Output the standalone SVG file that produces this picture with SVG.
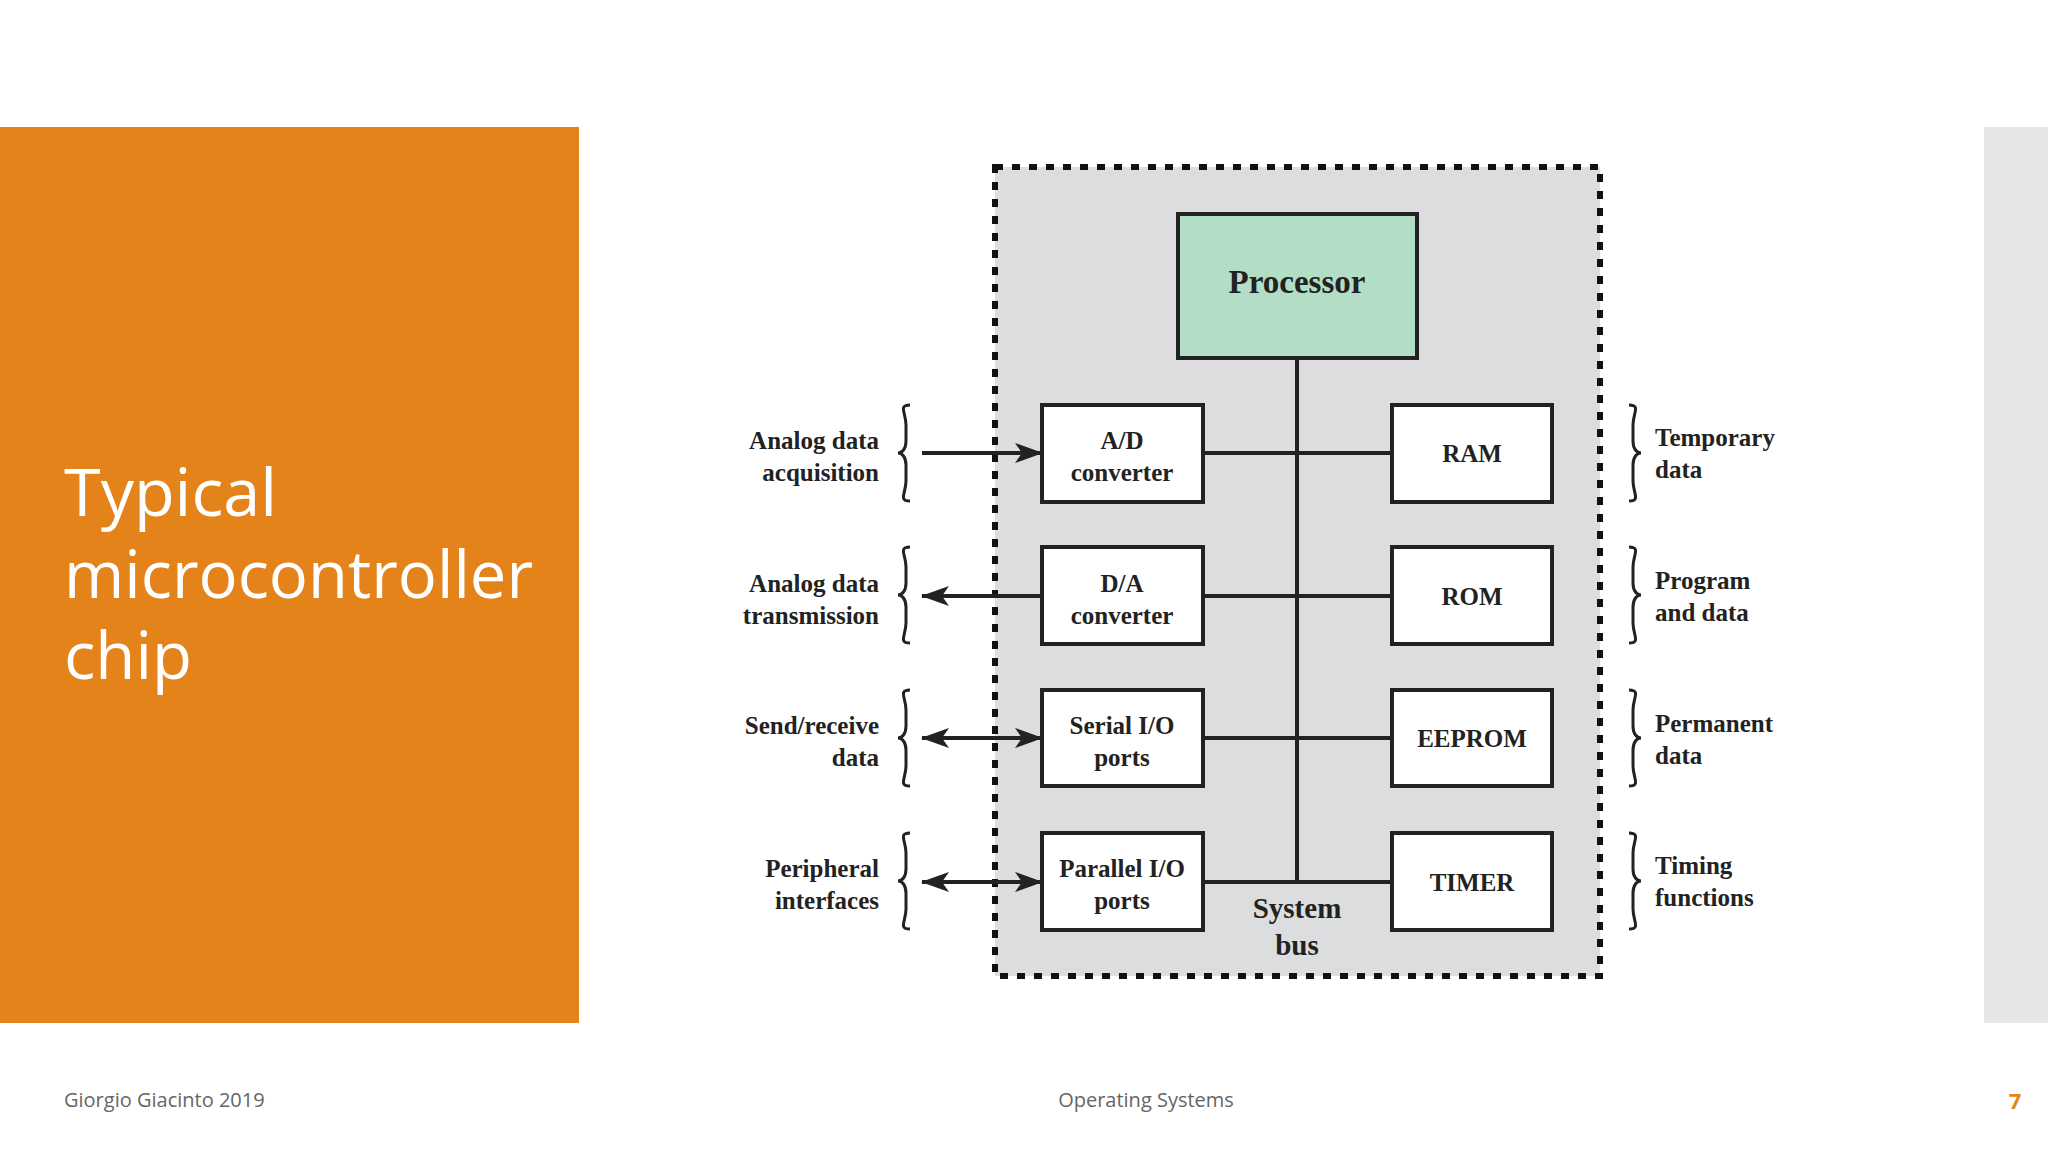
<svg xmlns="http://www.w3.org/2000/svg" width="2048" height="1152" viewBox="0 0 2048 1152">
<defs>
<style>
.box{fill:#fff;stroke:#222;stroke-width:4}
.t{font-family:"Liberation Serif",serif;font-weight:bold;font-size:25px;fill:#222}
.c{text-anchor:middle}
.r{text-anchor:end}
.ln{stroke:#222;stroke-width:4;fill:none}
.br{stroke:#222;stroke-width:3;fill:none}
.ft{font-family:"Open Sans",sans-serif;font-size:20px;fill:#666}
</style>
<marker id="ah" viewBox="0 0 28 20" refX="27" refY="10" markerWidth="28" markerHeight="20" markerUnits="userSpaceOnUse" orient="auto-start-reverse">
<path d="M0,0 L28,10 L0,20 L7,10 Z" fill="#222"/>
</marker>
<path id="lb" d="M12,0 C0,0 8,8 8,20 L8,36 C8,44 4,48 0,48 C4,48 8,52 8,60 L8,76 C8,88 0,96 12,96"/>
</defs>
<rect width="2048" height="1152" fill="#fff"/>
<rect x="0" y="127" width="579" height="896" fill="#E3831A"/>
<rect x="1984" y="127" width="64" height="896" fill="#E6E6E6"/>
<g font-family="Open Sans, sans-serif" font-size="66" fill="#fff">
<text x="64" y="516" textLength="213" lengthAdjust="spacingAndGlyphs">Typical</text>
<text x="64" y="598" textLength="469" lengthAdjust="spacingAndGlyphs">microcontroller</text>
<text x="64" y="679" textLength="128" lengthAdjust="spacingAndGlyphs">chip</text>
</g>
<text class="ft" x="64" y="1107">Giorgio Giacinto 2019</text>
<text class="ft" x="1146" y="1107" text-anchor="middle">Operating Systems</text>
<text x="2015" y="1109" font-family="Open Sans, sans-serif" font-size="22" font-weight="bold" fill="#E3831A" text-anchor="middle">7</text>

<rect x="995" y="167" width="605" height="809" fill="#DCDDDF" stroke="#111" stroke-width="6" stroke-dasharray="8 9"/>

<g id="connectors">
<line class="ln" x1="1297" y1="358" x2="1297" y2="882"/>
<line class="ln" x1="1203" y1="453" x2="1392" y2="453"/>
<line class="ln" x1="1203" y1="596" x2="1392" y2="596"/>
<line class="ln" x1="1203" y1="738" x2="1392" y2="738"/>
<line class="ln" x1="1203" y1="882" x2="1392" y2="882"/>
<line class="ln" x1="922" y1="453" x2="1042" y2="453" marker-end="url(#ah)"/>
<line class="ln" x1="1042" y1="596" x2="922" y2="596" marker-end="url(#ah)"/>
<line class="ln" x1="922" y1="738" x2="1042" y2="738" marker-start="url(#ah)" marker-end="url(#ah)"/>
<line class="ln" x1="922" y1="882" x2="1042" y2="882" marker-start="url(#ah)" marker-end="url(#ah)"/>
</g>

<g id="processor"><rect x="1178" y="214" width="239" height="144" fill="#B3DEC5" stroke="#222" stroke-width="4"/><text class="t c" x="1297" y="293" style="font-size:33px">Processor</text></g>
<g id="ad"><rect class="box" x="1042" y="405" width="161" height="97"/><text class="t c" x="1122" y="449">A/D</text><text class="t c" x="1122" y="481">converter</text></g>
<g id="da"><rect class="box" x="1042" y="547" width="161" height="97"/><text class="t c" x="1122" y="592">D/A</text><text class="t c" x="1122" y="624">converter</text></g>
<g id="serial"><rect class="box" x="1042" y="690" width="161" height="96"/><text class="t c" x="1122" y="734">Serial I/O</text><text class="t c" x="1122" y="766">ports</text></g>
<g id="parallel"><rect class="box" x="1042" y="833" width="161" height="97"/><text class="t c" x="1122" y="877">Parallel I/O</text><text class="t c" x="1122" y="909">ports</text></g>
<g id="ram"><rect class="box" x="1392" y="405" width="160" height="97"/><text class="t c" x="1472" y="462">RAM</text></g>
<g id="rom"><rect class="box" x="1392" y="547" width="160" height="97"/><text class="t c" x="1472" y="605">ROM</text></g>
<g id="eeprom"><rect class="box" x="1392" y="690" width="160" height="96"/><text class="t c" x="1472" y="747">EEPROM</text></g>
<g id="timer"><rect class="box" x="1392" y="833" width="160" height="97"/><text class="t c" x="1472" y="891">TIMER</text></g>
<g id="sysbus"><text class="t c" x="1297" y="918" style="font-size:29px">System</text><text class="t c" x="1297" y="955" style="font-size:29px">bus</text></g>

<g id="left-labels">
<use href="#lb" class="br" x="898" y="405"/><text class="t r" x="879" y="449">Analog data</text><text class="t r" x="879" y="481">acquisition</text>
<use href="#lb" class="br" x="898" y="547"/><text class="t r" x="879" y="592">Analog data</text><text class="t r" x="879" y="624">transmission</text>
<use href="#lb" class="br" x="898" y="690"/><text class="t r" x="879" y="734">Send/receive</text><text class="t r" x="879" y="766">data</text>
<use href="#lb" class="br" x="898" y="833"/><text class="t r" x="879" y="877">Peripheral</text><text class="t r" x="879" y="909">interfaces</text>
</g>
<g id="right-labels">
<use href="#lb" class="br" transform="translate(1641,405) scale(-1,1)"/><text class="t" x="1655" y="446">Temporary</text><text class="t" x="1655" y="478">data</text>
<use href="#lb" class="br" transform="translate(1641,547) scale(-1,1)"/><text class="t" x="1655" y="589">Program</text><text class="t" x="1655" y="621">and data</text>
<use href="#lb" class="br" transform="translate(1641,690) scale(-1,1)"/><text class="t" x="1655" y="732">Permanent</text><text class="t" x="1655" y="764">data</text>
<use href="#lb" class="br" transform="translate(1641,833) scale(-1,1)"/><text class="t" x="1655" y="874">Timing</text><text class="t" x="1655" y="906">functions</text>
</g>
</svg>
